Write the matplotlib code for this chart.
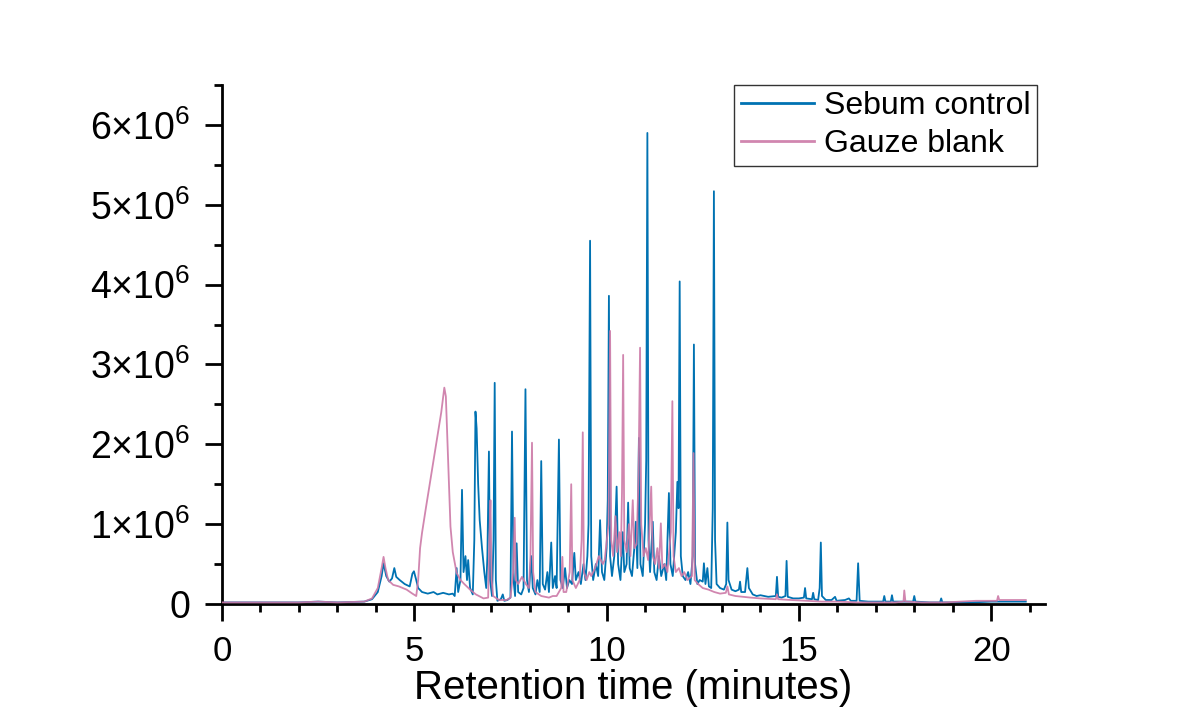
import matplotlib
matplotlib.use("Agg")
import matplotlib.pyplot as plt
from matplotlib.ticker import MultipleLocator, FixedLocator

plt.rcParams['font.family'] = ['Liberation Sans', 'DejaVu Sans']
plt.rcParams['mathtext.fontset'] = 'custom'
plt.rcParams['mathtext.rm'] = 'Liberation Sans'
plt.rcParams['mathtext.it'] = 'Liberation Sans'

# ---------------- data (intensity in units of 1e6 counts) ----------------
sebum_time = [
    0.0, 1.0, 2.0, 2.5, 3.0, 3.7, 3.9, 4.05, 4.15, 4.2, 4.27, 4.35, 4.42, 4.48, 4.53,
    4.62, 4.75, 4.88, 4.95, 4.99, 5.05, 5.1, 5.2, 5.35, 5.5, 5.6, 5.75, 5.9, 6.0, 6.05,
    6.1, 6.14, 6.2, 6.24, 6.28, 6.33, 6.37, 6.4, 6.45, 6.52, 6.56, 6.59, 6.62, 6.66,
    6.7, 6.76, 6.82, 6.87, 6.9, 6.94, 6.97, 7.02, 7.06, 7.09, 7.12, 7.16, 7.25, 7.3,
    7.34, 7.42, 7.5, 7.54, 7.58, 7.62, 7.66, 7.7, 7.78, 7.84, 7.89, 7.93, 7.98, 8.04,
    8.08, 8.15, 8.2, 8.26, 8.3, 8.34, 8.4, 8.46, 8.5, 8.56, 8.6, 8.66, 8.7, 8.76, 8.8,
    8.86, 8.92, 8.97, 9.03, 9.1, 9.16, 9.2, 9.27, 9.33, 9.4, 9.45, 9.5, 9.53, 9.57,
    9.6, 9.65, 9.72, 9.78, 9.83, 9.88, 9.94, 10.0, 10.03, 10.06, 10.09, 10.14, 10.2,
    10.26, 10.3, 10.36, 10.42, 10.46, 10.52, 10.56, 10.6, 10.66, 10.72, 10.76, 10.8,
    10.84, 10.88, 10.94, 11.0, 11.03, 11.06, 11.09, 11.13, 11.2, 11.24, 11.3, 11.36,
    11.42, 11.5, 11.55, 11.62, 11.66, 11.72, 11.8, 11.84, 11.87, 11.9, 11.93, 11.98,
    12.05, 12.12, 12.18, 12.24, 12.27, 12.3, 12.36, 12.42, 12.5, 12.53, 12.57, 12.62,
    12.66, 12.72, 12.76, 12.79, 12.82, 12.86, 12.95, 13.05, 13.11, 13.14, 13.17, 13.25,
    13.35, 13.44, 13.47, 13.5, 13.6, 13.63, 13.66, 13.7, 13.8, 13.9, 14.0, 14.2, 14.4,
    14.43, 14.46, 14.55, 14.65, 14.68, 14.71, 14.85, 15.0, 15.13, 15.16, 15.19, 15.34,
    15.37, 15.4, 15.5, 15.54, 15.57, 15.6, 15.7, 15.85, 15.94, 15.98, 16.2, 16.3, 16.35,
    16.5, 16.54, 16.58, 16.8, 17.0, 17.19, 17.22, 17.25, 17.39, 17.42, 17.45, 17.7,
    17.97, 18.0, 18.03, 18.4, 18.67, 18.7, 18.73, 19.0, 19.5, 20.0, 20.5, 20.9,
]
sebum_signal = [
    0.02, 0.02, 0.02, 0.03, 0.02, 0.03, 0.06, 0.15, 0.35, 0.51, 0.35, 0.28, 0.32, 0.45, 0.34,
    0.30, 0.25, 0.22, 0.38, 0.41, 0.30, 0.20, 0.15, 0.13, 0.15, 0.12, 0.14, 0.12, 0.13, 0.10,
    0.45, 0.15, 0.30, 1.43, 0.40, 0.60, 0.30, 0.55, 0.20, 0.12, 0.80, 2.41, 2.20, 1.50,
    1.05, 0.70, 0.40, 0.20, 0.60, 1.91, 0.30, 0.10, 0.80, 2.77, 0.30, 0.04, 0.06, 0.12,
    0.04, 0.05, 0.08, 2.16, 0.30, 0.10, 0.76, 0.15, 0.12, 0.20, 2.69, 0.30, 0.15, 0.60,
    0.20, 0.12, 0.30, 0.15, 1.79, 0.25, 0.18, 0.40, 0.15, 0.77, 0.20, 0.35, 0.20, 2.06, 0.30,
    0.20, 0.45, 0.20, 0.30, 0.25, 0.64, 0.30, 0.40, 0.25, 0.50, 0.30, 0.60, 1.00, 4.55,
    0.60, 0.30, 0.50, 0.35, 1.05, 0.40, 0.30, 0.70, 1.30, 3.86, 0.60, 0.35, 0.60,
    1.47, 0.50, 0.30, 0.90, 0.40, 0.50, 1.27, 0.45, 0.35, 0.70, 1.03, 0.45,
    2.08, 0.50, 0.35, 1.00, 1.80, 5.90, 0.80, 0.40, 1.03, 0.40, 0.30, 0.60,
    0.35, 0.50, 0.30, 1.39, 0.50, 0.35, 0.90, 1.53, 1.20, 4.04, 0.60, 0.35,
    0.30, 0.40, 0.25, 0.60, 3.25, 0.50, 0.25, 0.30, 0.28, 0.51, 0.25, 0.45,
    0.22, 0.20, 1.20, 5.17, 0.80, 0.25, 0.20, 0.18, 0.25, 1.02, 0.30, 0.18,
    0.16, 0.18, 0.28, 0.15, 0.15, 0.30, 0.45, 0.20, 0.12, 0.10, 0.11, 0.09, 0.10,
    0.34, 0.09, 0.08, 0.10, 0.54, 0.09, 0.07, 0.07, 0.08, 0.20, 0.07, 0.06,
    0.14, 0.06, 0.05, 0.20, 0.77, 0.10, 0.05, 0.05, 0.09, 0.04, 0.05, 0.07, 0.04,
    0.04, 0.51, 0.04, 0.03, 0.03, 0.03, 0.10, 0.03, 0.03, 0.11, 0.03, 0.03,
    0.03, 0.10, 0.03, 0.02, 0.02, 0.07, 0.02, 0.02, 0.02, 0.03, 0.03, 0.03,
]

gauze_time = [
    0.0, 1.0, 2.0, 2.5, 3.0, 3.7, 3.9, 4.05, 4.15, 4.2, 4.25, 4.32, 4.45, 4.6, 4.8,
    4.95, 5.05, 5.1, 5.15, 5.2, 5.3, 5.4, 5.5, 5.6, 5.7, 5.78, 5.82, 5.86, 5.9, 5.94,
    6.0, 6.1, 6.2, 6.3, 6.45, 6.6, 6.8, 6.92, 6.95, 6.98, 7.01, 7.05, 7.2, 7.4, 7.5,
    7.57, 7.61, 7.64, 7.7, 7.8, 7.9, 7.98, 8.02, 8.06, 8.09, 8.15, 8.3, 8.5, 8.6, 8.7,
    8.82, 8.85, 8.88, 8.95, 9.04, 9.08, 9.11, 9.2, 9.3, 9.35, 9.38, 9.41, 9.48, 9.55,
    9.6, 9.7, 9.8, 9.9, 9.95, 10.05, 10.09, 10.12, 10.17, 10.23, 10.27, 10.33, 10.37,
    10.4, 10.43, 10.46, 10.52, 10.58, 10.62, 10.68, 10.72, 10.78, 10.83, 10.87, 10.9,
    10.96, 11.02, 11.08, 11.16, 11.2, 11.26, 11.32, 11.36, 11.41, 11.45, 11.52, 11.58,
    11.67, 11.71, 11.74, 11.8, 11.88, 11.95, 12.02, 12.1, 12.22, 12.26, 12.29, 12.38,
    12.5, 12.65, 12.8, 12.95, 13.1, 13.14, 13.18, 13.35, 13.55, 13.75, 14.0, 14.4,
    14.43, 14.46, 14.8, 15.2, 15.6, 16.0, 16.5, 17.0, 17.5, 17.72, 17.74, 17.77, 18.2,
    18.8, 19.2, 19.6, 20.0, 20.15, 20.18, 20.21, 20.5, 20.9,
]
gauze_signal = [
    0.02, 0.02, 0.02, 0.03, 0.02, 0.03, 0.07, 0.20, 0.45, 0.59, 0.45, 0.30, 0.24, 0.22, 0.18,
    0.13, 0.10, 0.30, 0.70, 0.89, 1.20, 1.50, 1.80, 2.10, 2.40, 2.71, 2.60, 2.06, 1.50, 0.97,
    0.65, 0.39, 0.30, 0.25, 0.18, 0.12, 0.07, 0.08, 0.80, 1.30, 0.30, 0.10, 0.05, 0.05, 0.08,
    0.40, 1.08, 0.30, 0.25, 0.34, 0.25, 0.20, 0.60, 2.02, 0.40, 0.15, 0.10, 0.08, 0.10, 0.10,
    0.20, 0.59, 0.15, 0.15, 0.40, 1.50, 0.30, 0.20, 0.30, 0.80, 2.15, 0.40, 0.30, 0.40,
    0.35, 0.45, 0.60, 0.50, 0.55, 1.00, 3.42, 0.80, 0.60, 1.10, 0.65, 0.90, 0.60,
    1.40, 3.12, 0.80, 0.65, 1.00, 0.60, 1.30, 0.70, 0.75, 1.60, 3.21, 1.00,
    0.60, 0.70, 0.55, 1.47, 0.60, 0.50, 0.70, 0.45, 1.01, 0.45, 0.50, 0.40,
    0.90, 2.54, 0.60, 0.40, 0.45, 0.35, 0.40, 0.30, 0.35, 1.89, 0.30, 0.25,
    0.20, 0.18, 0.15, 0.13, 0.14, 0.22, 0.12, 0.10, 0.09, 0.08, 0.07, 0.06,
    0.12, 0.06, 0.05, 0.04, 0.03, 0.03, 0.02, 0.02, 0.02, 0.03, 0.17, 0.03, 0.02,
    0.02, 0.03, 0.04, 0.04, 0.04, 0.10, 0.05, 0.05, 0.05,
]

series_labels = ["Sebum control", "Gauze blank"]
series_colors = ["#0072B2", "#CC79A7"]

x_major_ticks = [0, 5, 10, 15, 20]
x_tick_labels = ["0", "5", "10", "15", "20"]
y_major_ticks = [0, 1, 2, 3, 4, 5, 6]
y_tick_labels = ["0"] + [r"$\mathregular{%d{\times}10^{6}}$" % v for v in y_major_ticks[1:]]
x_label = "Retention time (minutes)"

# ---------------- figure ----------------
fig = plt.figure(figsize=(11.95, 7.17), dpi=100, facecolor="white")
ax = fig.add_axes([0.1858, 0.1576, 0.6887, 0.7238])

l1, = ax.plot(sebum_time, [v * 1e6 for v in sebum_signal], color=series_colors[0],
              lw=1.3, label=series_labels[0], zorder=2)
l2, = ax.plot(gauze_time, [v * 1e6 for v in gauze_signal], color=series_colors[1],
              lw=1.3, label=series_labels[1], zorder=3, alpha=0.9)

ax.set_xlim(0, 21.4)
ax.set_ylim(0, 6.5e6)

ax.xaxis.set_major_locator(FixedLocator(x_major_ticks))
ax.set_xticklabels(x_tick_labels)
ax.xaxis.set_minor_locator(MultipleLocator(1))
ax.yaxis.set_major_locator(FixedLocator([v * 1e6 for v in y_major_ticks]))
ax.set_yticklabels(y_tick_labels)
ax.yaxis.set_minor_locator(MultipleLocator(0.5e6))

for s in ["top", "right"]:
    ax.spines[s].set_visible(False)
for s in ["left", "bottom"]:
    ax.spines[s].set_linewidth(2.0)

ax.tick_params(which="major", direction="out", length=12, width=2.0)
ax.tick_params(which="minor", direction="out", length=6, width=2.0)
ax.tick_params(axis="x", which="major", pad=10, labelsize=25)
ax.tick_params(axis="y", which="major", pad=11, labelsize=27)

ax.set_xlabel(x_label, fontsize=29, labelpad=1)

leg = ax.legend(loc="upper right", bbox_to_anchor=(0.99, 1.0), fontsize=23,
                frameon=True, fancybox=False, edgecolor="black", borderaxespad=0,
                handlelength=2.3, handletextpad=0.3, labelspacing=0.25, borderpad=0.2)
leg.get_frame().set_linewidth(1.0)
for ln in leg.get_lines():
    ln.set_linewidth(2.0)

fig.savefig("out.png", dpi=100, facecolor="white")
